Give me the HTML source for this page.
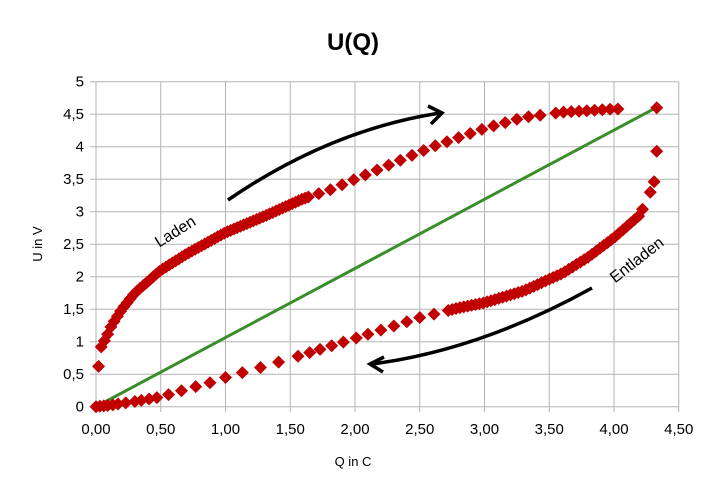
<!DOCTYPE html>
<html><head><meta charset="utf-8"><style>
body{margin:0;background:#fff}
svg text{font-family:"Liberation Sans",sans-serif}
</style></head><body>
<svg id="s" width="707" height="493" viewBox="0 0 707 493" xmlns="http://www.w3.org/2000/svg">
<rect width="707" height="493" fill="#fff"/>
<text x="353" y="50" font-size="24" font-weight="bold" text-anchor="middle">U(Q)</text>
<g id="grid" stroke="#b3b3b3" stroke-width="1"></g>
<g id="lab" font-size="15" fill="#000"></g>
<text x="353" y="466" font-size="13" text-anchor="middle">Q in C</text>
<text transform="translate(42,244) rotate(-90)" font-size="13" text-anchor="middle">U in V</text>
<line x1="96" y1="406.7" x2="656" y2="107.7" stroke="#3a8e2a" stroke-width="3"/>
<g id="pts" fill="#c00000"></g>
<path d="M228,200 Q330,130 440,113" fill="none" stroke="#000" stroke-width="3.5"/>
<path d="M428,106 L442,113 L431,124" fill="none" stroke="#000" stroke-width="3.5"/>
<path d="M592,288 Q480,350 372,364" fill="none" stroke="#000" stroke-width="3.5"/>
<path d="M384,357 L370,364 L383,372" fill="none" stroke="#000" stroke-width="3.5"/>
<text transform="translate(178,236) rotate(-32)" font-size="16" text-anchor="middle">Laden</text>
<text transform="translate(640,264) rotate(-38)" font-size="16" text-anchor="middle">Entladen</text>
</svg>
<script>
var X=q=>96+129.5*q, Y=u=>406.7-65*u;
var g=document.getElementById('grid'),l=document.getElementById('lab'),p=document.getElementById('pts');
var h='',t='';
for(var i=0;i<=9;i++){var x=X(i*0.5);h+='<line x1="'+x+'" y1="81.7" x2="'+x+'" y2="412"/>';t+='<text x="'+x+'" y="434" text-anchor="middle">'+(i*0.5).toFixed(2).replace('.',',')+'</text>';}
for(var j=0;j<=10;j++){var y=Y(j*0.5);h+='<line x1="90" y1="'+y+'" x2="'+X(4.5)+'" y2="'+y+'"/>';t+='<text x="84" y="'+(y+5)+'" text-anchor="end">'+String(j*0.5).replace('.',',')+'</text>';}
g.innerHTML=h;l.innerHTML=t;
function interp(P,q){for(var k=1;k<P.length;k++){if(q<=P[k][0]){var a=P[k-1],b=P[k];return a[1]+(b[1]-a[1])*(q-a[0])/(b[0]-a[0]);}}return P[P.length-1][1];}
var C=[[0.02,0.62],[0.04,0.92],[0.08,1.07],[0.12,1.25],[0.2,1.5],[0.3,1.75],[0.5,2.1],[0.7,2.35],[1.0,2.68],[1.3,2.93],[1.6,3.2],[1.8,3.33],[2.0,3.5],[2.3,3.75],[2.6,4.0],[3.0,4.28],[3.3,4.45],[3.6,4.53],[4.0,4.58],[4.03,4.58]];
var D=[[0,0],[0.1,0.02],[0.3,0.08],[0.5,0.15],[0.7,0.27],[0.9,0.38],[1.0,0.45],[1.3,0.62],[1.6,0.8],[2.0,1.05],[2.5,1.37],[2.8,1.52],[3.0,1.6],[3.3,1.78],[3.6,2.05],[3.8,2.3],[4.0,2.6],[4.2,2.95],[4.28,3.3]];
var s='';
function dm(q,u){var x=X(q),y=Y(u);s+='<path d="M'+x+','+(y-6.5)+'L'+(x+6.5)+','+y+'L'+x+','+(y+6.5)+'L'+(x-6.5)+','+y+'Z"/>';}
dm(0.02,0.62);
for(var q=0.04;q<=1.65;q+=0.025)dm(q,interp(C,q));
for(var q=1.72;q<=3.5;q+=0.09)dm(q,interp(C,q));
for(var q=3.55;q<=4.03;q+=0.06)dm(q,interp(C,q));
[0,0.03,0.06,0.09,0.13,0.17,0.23,0.3,0.35,0.41,0.47,0.56,0.66,0.77,0.88,1.0,1.13,1.27,1.41,1.56,1.65,1.73,1.82,1.91,2.01,2.1,2.2,2.3,2.4,2.5,2.61].forEach(q=>dm(q,interp(D,q)));
for(var q=2.72;q<=4.22;q+=0.03)dm(q,interp(D,q));
dm(4.28,3.3);dm(4.31,3.46);dm(4.33,3.93);dm(4.33,4.6);
p.innerHTML=s;
</script>
</body></html>
